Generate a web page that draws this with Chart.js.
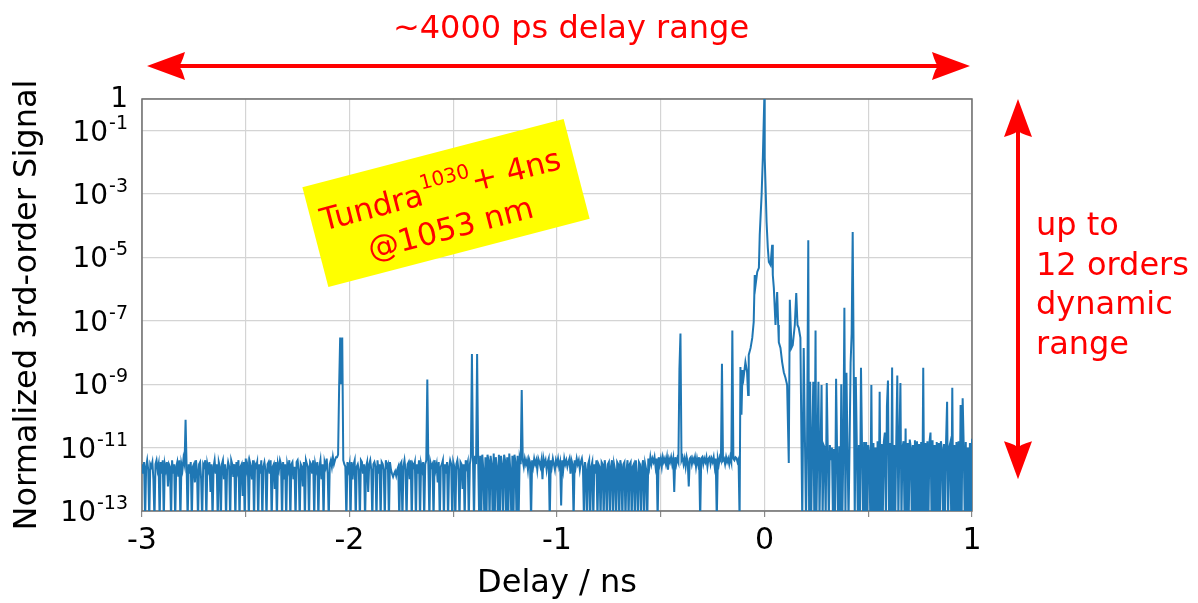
<!DOCTYPE html>
<html>
<head>
<meta charset="utf-8">
<script src="https://cdn.jsdelivr.net/npm/chart.js@4"></script>
<style>
  html, body { margin: 0; padding: 0; background: #fff; }
  #wrap { width: 1198px; height: 603px; position: relative; }
</style>
</head>
<body>
<div id="wrap"><canvas id="chart"></canvas></div>
<script>
// Delay axis samples (ns)
const delayNs = [
  -3.000,-2.995,-2.990,-2.985,-2.980,-2.975,-2.970,-2.965,-2.960,-2.955,-2.950,-2.945,-2.940,-2.935,-2.930,-2.925,-2.920,-2.915,-2.910,-2.905,
  -2.900,-2.895,-2.890,-2.885,-2.880,-2.875,-2.870,-2.865,-2.860,-2.855,-2.850,-2.845,-2.840,-2.835,-2.830,-2.825,-2.820,-2.815,-2.810,-2.805,
  -2.800,-2.795,-2.790,-2.785,-2.780,-2.775,-2.770,-2.765,-2.760,-2.755,-2.750,-2.745,-2.740,-2.735,-2.730,-2.725,-2.720,-2.715,-2.710,-2.705,
  -2.700,-2.695,-2.690,-2.685,-2.680,-2.675,-2.670,-2.665,-2.660,-2.655,-2.650,-2.645,-2.640,-2.635,-2.630,-2.625,-2.620,-2.615,-2.610,-2.605,
  -2.600,-2.595,-2.590,-2.585,-2.580,-2.575,-2.570,-2.565,-2.560,-2.555,-2.550,-2.545,-2.540,-2.535,-2.530,-2.525,-2.520,-2.515,-2.510,-2.505,
  -2.500,-2.495,-2.490,-2.485,-2.480,-2.475,-2.470,-2.465,-2.460,-2.455,-2.450,-2.445,-2.440,-2.435,-2.430,-2.425,-2.420,-2.415,-2.410,-2.405,
  -2.400,-2.395,-2.390,-2.385,-2.380,-2.375,-2.370,-2.365,-2.360,-2.355,-2.350,-2.345,-2.340,-2.335,-2.330,-2.325,-2.320,-2.315,-2.310,-2.305,
  -2.300,-2.295,-2.290,-2.285,-2.280,-2.275,-2.270,-2.265,-2.260,-2.255,-2.250,-2.245,-2.240,-2.235,-2.230,-2.225,-2.220,-2.215,-2.210,-2.205,
  -2.200,-2.195,-2.190,-2.185,-2.180,-2.175,-2.170,-2.165,-2.160,-2.155,-2.150,-2.145,-2.140,-2.135,-2.130,-2.125,-2.120,-2.115,-2.110,-2.105,
  -2.100,-2.095,-2.090,-2.085,-2.080,-2.075,-2.070,-2.065,-2.060,-2.055,-2.050,-2.045,-2.040,-2.035,-2.030,-2.025,-2.020,-2.015,-2.010,-2.005,
  -2.000,-1.995,-1.990,-1.985,-1.980,-1.975,-1.970,-1.965,-1.960,-1.955,-1.950,-1.945,-1.940,-1.935,-1.930,-1.925,-1.920,-1.915,-1.910,-1.905,
  -1.900,-1.895,-1.890,-1.885,-1.880,-1.875,-1.870,-1.865,-1.860,-1.855,-1.850,-1.845,-1.840,-1.835,-1.830,-1.825,-1.820,-1.815,-1.810,-1.805,
  -1.800,-1.795,-1.790,-1.785,-1.780,-1.775,-1.770,-1.765,-1.760,-1.755,-1.750,-1.745,-1.740,-1.735,-1.730,-1.725,-1.720,-1.715,-1.710,-1.705,
  -1.700,-1.695,-1.690,-1.685,-1.680,-1.675,-1.670,-1.665,-1.660,-1.655,-1.650,-1.645,-1.640,-1.635,-1.630,-1.625,-1.620,-1.615,-1.610,-1.605,
  -1.600,-1.595,-1.590,-1.585,-1.580,-1.575,-1.570,-1.565,-1.560,-1.555,-1.550,-1.545,-1.540,-1.535,-1.530,-1.525,-1.520,-1.515,-1.510,-1.505,
  -1.500,-1.495,-1.490,-1.485,-1.480,-1.475,-1.470,-1.465,-1.460,-1.455,-1.450,-1.445,-1.440,-1.435,-1.430,-1.425,-1.420,-1.415,-1.410,-1.405,
  -1.400,-1.395,-1.390,-1.385,-1.380,-1.375,-1.370,-1.365,-1.360,-1.355,-1.350,-1.345,-1.340,-1.335,-1.330,-1.325,-1.320,-1.315,-1.310,-1.305,
  -1.300,-1.295,-1.290,-1.285,-1.280,-1.275,-1.270,-1.265,-1.260,-1.255,-1.250,-1.245,-1.240,-1.235,-1.230,-1.225,-1.220,-1.215,-1.210,-1.205,
  -1.200,-1.195,-1.190,-1.185,-1.180,-1.175,-1.170,-1.165,-1.160,-1.155,-1.150,-1.145,-1.140,-1.135,-1.130,-1.125,-1.120,-1.115,-1.110,-1.105,
  -1.100,-1.095,-1.090,-1.085,-1.080,-1.075,-1.070,-1.065,-1.060,-1.055,-1.050,-1.045,-1.040,-1.035,-1.030,-1.025,-1.020,-1.015,-1.010,-1.005,
  -1.000,-0.995,-0.990,-0.985,-0.980,-0.975,-0.970,-0.965,-0.960,-0.955,-0.950,-0.945,-0.940,-0.935,-0.930,-0.925,-0.920,-0.915,-0.910,-0.905,
  -0.900,-0.895,-0.890,-0.885,-0.880,-0.875,-0.870,-0.865,-0.860,-0.855,-0.850,-0.845,-0.840,-0.835,-0.830,-0.825,-0.820,-0.815,-0.810,-0.805,
  -0.800,-0.795,-0.790,-0.785,-0.780,-0.775,-0.770,-0.765,-0.760,-0.755,-0.750,-0.745,-0.740,-0.735,-0.730,-0.725,-0.720,-0.715,-0.710,-0.705,
  -0.700,-0.695,-0.690,-0.685,-0.680,-0.675,-0.670,-0.665,-0.660,-0.655,-0.650,-0.645,-0.640,-0.635,-0.630,-0.625,-0.620,-0.615,-0.610,-0.605,
  -0.600,-0.595,-0.590,-0.585,-0.580,-0.575,-0.570,-0.565,-0.560,-0.555,-0.550,-0.545,-0.540,-0.535,-0.530,-0.525,-0.520,-0.515,-0.510,-0.505,
  -0.500,-0.495,-0.490,-0.485,-0.480,-0.475,-0.470,-0.465,-0.460,-0.455,-0.450,-0.445,-0.440,-0.435,-0.430,-0.425,-0.420,-0.415,-0.410,-0.405,
  -0.400,-0.395,-0.390,-0.385,-0.380,-0.375,-0.370,-0.365,-0.360,-0.355,-0.350,-0.345,-0.340,-0.335,-0.330,-0.325,-0.320,-0.315,-0.310,-0.305,
  -0.300,-0.295,-0.290,-0.285,-0.280,-0.275,-0.270,-0.265,-0.260,-0.255,-0.250,-0.245,-0.240,-0.235,-0.230,-0.225,-0.220,-0.215,-0.210,-0.205,
  -0.200,-0.195,-0.190,-0.185,-0.180,-0.175,-0.170,-0.165,-0.160,-0.155,-0.150,-0.145,-0.140,-0.135,-0.130,-0.125,
  -0.120,-0.116,-0.111,
  -0.106,-0.101,-0.092,-0.084,-0.079,-0.076,-0.067,-0.059,-0.052,-0.047,
  -0.043,-0.035,-0.027,-0.023,-0.014,-0.008,-0.001,0.001,0.005,0.010,
  0.016,0.021,0.029,0.037,0.040,0.045,0.053,0.061,0.066,0.069,
  0.077,0.085,0.093,0.101,0.109,0.117,0.122,0.130,0.136,0.146,
  0.153,0.159,0.165,0.173,0.182,0.189,0.195,0.200,0.205,0.211,
  0.215,0.220,0.225,0.230,0.235,0.240,0.246,0.250,0.255,0.260,
  0.265,0.270,0.275,0.280,0.285,0.290,0.295,0.300,0.305,0.310,
  0.315,0.320,0.325,0.330,0.335,0.340,0.345,0.350,0.355,0.360,
  0.365,0.370,0.375,0.380,0.385,0.390,0.395,0.400,0.405,0.410,
  0.415,0.420,0.425,0.430,0.435,0.440,0.445,0.450,0.455,0.460,
  0.465,0.470,0.475,0.480,
  0.485,0.490,0.495,0.500,0.505,0.510,0.515,0.520,0.525,0.530,
  0.535,0.540,0.545,0.550,0.555,0.560,0.565,0.570,0.575,0.580,
  0.585,0.590,0.595,0.600,0.605,0.610,0.615,0.620,0.625,0.630,
  0.635,0.640,0.645,0.650,0.655,0.660,0.665,0.670,0.675,0.680,
  0.685,0.690,0.695,0.700,0.705,0.710,0.715,0.720,0.725,0.730,
  0.735,0.740,0.745,0.750,0.755,0.760,0.765,0.770,0.775,0.780,
  0.785,0.790,0.795,0.800,0.805,0.810,0.815,0.820,0.825,0.830,
  0.835,0.840,0.845,0.850,0.855,0.860,0.865,0.870,0.875,0.880,
  0.885,0.890,0.895,0.900,0.905,0.910,0.915,0.920,0.925,0.930,
  0.935,0.940,0.945,0.950,0.955,0.960,0.965,0.970,0.975,0.980,
  0.985,0.990,0.995,1.000
];

// Normalized 3rd-order signal at each delay (values below 1e-13 fall off the bottom)
const signal = [
  3e-12,1.5e-12,3.5e-12,5e-14,2.5e-12,4e-12,2e-12,5e-14,3e-12,2.5e-12,3.5e-12,1e-12,5e-14,3e-12,4e-12,2e-12,3e-12,5e-14,3.5e-12,1.5e-12,
  4e-12,5e-14,3e-12,2e-12,3.5e-12,6e-13,3e-12,2.5e-12,5e-14,4e-12,1.5e-12,3e-12,5e-14,2.5e-12,3.5e-12,1.2e-12,4e-12,5e-14,3e-12,2e-12,
  4.5e-12,3e-12,7.5e-11,2.5e-12,5e-14,3e-12,1.5e-12,3.5e-12,5e-14,2.5e-12,3e-12,8e-13,4e-12,2e-12,5e-14,3e-12,3.5e-12,1e-12,5e-14,3e-12,
  2.5e-12,4e-12,5e-14,3e-12,2e-12,3.5e-12,4e-13,3e-12,5e-14,2.5e-12,4e-12,1.5e-12,3e-12,5e-14,3.5e-12,2.5e-12,5e-14,3e-12,4e-12,1e-12,
  3e-12,5e-14,2e-12,3.5e-12,2.5e-12,5e-14,4e-12,3e-12,1.2e-12,3e-12,5e-14,3.5e-12,2e-12,4e-12,5e-14,2.5e-12,3e-12,3e-13,3.5e-12,5e-14,
  4.5e-12,2e-12,3e-12,5e-14,3.5e-12,2.5e-12,1e-12,4e-12,5e-14,3e-12,2.5e-12,3.5e-12,5e-14,3e-12,1.5e-12,4e-12,5e-14,2.5e-12,3.5e-12,2e-12,
  5e-14,3e-12,3.5e-12,1.5e-12,4e-12,5e-14,2.5e-12,3e-12,5e-13,3.5e-12,5e-14,3e-12,2e-12,4e-12,3e-12,5e-14,3.5e-12,1e-12,3e-12,5e-14,
  3e-12,2e-12,4e-12,5e-14,3e-12,3.5e-12,1e-12,2.5e-12,5e-14,3.5e-12,4e-12,2e-12,5e-14,3e-12,2.5e-12,6e-13,3.5e-12,5e-14,4e-12,3e-12,
  2.5e-12,5e-14,3.5e-12,3e-12,1.5e-12,4e-12,5e-14,3e-12,2e-12,3.5e-12,5e-14,2.5e-12,4e-12,1e-12,3e-12,5e-14,3.5e-12,2.5e-12,4.5e-12,1.5e-12,
  5e-14,3e-12,4e-12,2.5e-12,5e-12,3e-12,4e-12,5e-12,5e-12,6e-12,8e-10,3e-8,1e-9,3e-8,4e-12,3e-12,2.5e-12,5e-14,3.5e-12,2e-12,
  3e-12,5e-14,3.5e-12,1e-12,3e-12,4e-12,5e-14,2.5e-12,3e-12,2e-12,5e-14,4e-12,3.5e-12,1.5e-12,3e-12,5e-14,2.5e-12,3.5e-12,4e-13,3e-12,
  4e-12,2e-12,5e-14,3e-12,3.5e-12,2.5e-12,5e-14,4e-12,1.5e-12,3e-12,5e-14,3.5e-12,3e-12,2e-12,5e-14,4e-12,2.5e-12,3e-12,5e-14,3.5e-12,
  2e-12,1.5e-12,1.2e-12,1.5e-12,1.8e-12,1.3e-12,2e-12,2.5e-12,5e-14,3e-12,3.5e-12,5e-14,2.5e-12,4e-12,2e-12,5e-14,3e-12,3.5e-12,1e-12,4e-12,
  5e-14,3e-12,2.5e-12,3.5e-12,5e-14,3e-12,1.5e-12,4e-12,5e-14,3e-12,2e-12,3.5e-12,5e-14,3e-12,4e-12,1.4e-9,3e-12,5e-14,3.5e-12,2.5e-12,
  3e-12,5e-14,4e-12,2e-12,3e-12,8e-13,3.5e-12,5e-14,2.5e-12,3e-12,4e-12,5e-14,3e-12,1.5e-12,3.5e-12,5e-14,2.5e-12,4e-12,3e-12,5e-14,
  3.5e-12,2.5e-12,5e-14,3e-12,4e-12,2e-12,5e-14,3.5e-12,3e-12,5e-13,3e-12,5e-14,4e-12,2.5e-12,3.5e-12,5e-14,3e-12,5e-12,9e-9,5e-12,
  5e-14,5.5e-12,3e-12,9e-9,5e-12,5e-14,5.5e-12,5e-14,6e-12,2e-12,5e-14,5e-12,5e-14,6e-12,4e-12,5e-14,5.5e-12,3e-12,5e-14,6.5e-12,
  5e-14,5e-12,2.5e-12,5e-14,6e-12,5e-14,5.5e-12,3e-12,5e-14,6e-12,4e-12,5e-14,5e-12,5e-14,6.5e-12,2e-12,5e-14,5.5e-12,5e-14,6e-12,
  3.5e-12,5e-14,5.5e-12,5e-14,4.5e-12,3e-12,6.6e-10,4e-12,2.5e-12,4.5e-12,3e-12,4e-12,2e-12,4.5e-12,3.5e-12,5e-14,4e-12,2.5e-12,4.5e-12,3e-12,
  4e-12,2e-12,4.5e-12,3.5e-12,2.5e-12,4e-12,1e-12,4.5e-12,3e-12,4e-12,2e-12,3.5e-12,4.5e-12,5e-14,4e-12,2.5e-12,4.5e-12,3e-12,2e-12,4e-12,
  3e-12,4.5e-12,2.5e-12,3.5e-12,1.5e-13,4e-12,2e-12,4.5e-12,3e-12,4e-12,2.5e-12,3.5e-12,4.5e-12,1.5e-12,4e-12,3e-12,5e-14,4e-12,2.5e-12,4.5e-12,
  3e-12,4e-12,2e-12,3.5e-12,4.5e-12,2.5e-12,5e-14,3.5e-12,2e-12,5e-14,3e-12,4e-12,5e-14,2.5e-12,3.5e-12,5e-14,3e-12,1.5e-12,4e-12,5e-14,
  3e-12,2.5e-12,5e-14,3.5e-12,3e-12,5e-14,4e-12,2e-12,5e-14,3e-12,3.5e-12,5e-14,2.5e-12,4e-12,5e-14,3e-12,2e-12,5e-14,3.5e-12,3e-12,
  5e-14,4e-12,2.5e-12,5e-14,3e-12,3.5e-12,5e-14,2e-12,4e-12,5e-14,3e-12,3.5e-12,5e-14,2.5e-12,3e-12,5e-14,4e-12,1.5e-12,5e-14,3.5e-12,
  3e-12,5e-14,2.5e-12,4e-12,5e-14,3e-12,2e-12,5e-14,4.5e-12,2.5e-12,5e-12,3e-12,4.5e-12,3.5e-12,5e-12,2.5e-12,4.5e-12,5e-14,5e-12,3e-12,
  4.5e-12,2.5e-12,5e-12,3.5e-12,4.5e-12,3e-12,5e-12,2e-12,4.5e-12,3.5e-12,5e-12,3e-12,4.5e-12,4e-13,5e-12,3e-12,4.5e-12,3.5e-12,3e-9,4e-8,
  4e-12,5e-12,3e-12,4.5e-12,2.5e-12,5e-12,3.5e-12,6e-13,4.5e-12,5e-12,3e-12,4.5e-12,3.5e-12,5e-12,2.5e-12,4.5e-12,3e-12,5e-12,5e-14,4.5e-12,
  5e-12,3e-12,4.5e-12,3.5e-12,5e-12,2.5e-12,4.5e-12,5e-12,3e-12,4.5e-12,3.5e-12,5e-12,2.5e-12,4.5e-12,5e-14,4.5e-12,3e-12,5e-12,4e-12,4.4e-9,
  4e-12,4.5e-12,3e-12,5e-12,3.5e-12,4.5e-12,3e-12,5e-12,3.5e-12,5e-8,4.5e-12,4e-12,5e-12,4.7e-12,3.5e-12,4.3e-12,
  5e-14,3.5e-9,1.1e-10,
  2.8e-9,1.6e-9,5e-9,2.4e-9,4.6e-10,8.4e-9,1.4e-8,2.9e-8,9.3e-8,2.8e-6,
  1.35e-6,3.5e-6,4.7e-6,5.1e-5,9.3e-4,1.4e-2,1,1.4e-2,1.9e-3,1.3e-4,
  2e-5,7.2e-6,5.8e-6,2.5e-5,2.8e-6,1.1e-6,7.4e-8,8.1e-7,7.4e-8,2.1e-8,
  1.4e-8,5e-9,2.4e-9,1.6e-9,9.5e-10,3.3e-12,4.6e-7,1.4e-8,1.7e-8,7.4e-8,
  7.6e-7,7.4e-8,6e-8,2.9e-8,5e-14,1.4e-8,1.5e-11,5e-14,8e-12,3.5e-5,
  5e-14,1.2e-9,5e-14,1.2e-11,1.2e-9,5e-14,5e-8,5e-14,1e-11,1.2e-9,
  5e-14,8e-12,9.5e-10,5e-14,1.2e-11,1e-11,5e-14,1.1e-9,7e-12,5e-14,
  1.2e-11,4e-12,1e-11,5e-14,9e-12,5e-14,1.5e-9,6e-12,5e-14,1.1e-11,
  5e-14,1e-9,5e-14,9e-12,2.6e-7,5e-14,2.3e-9,8e-12,5e-14,1.2e-11,
  4.7e-9,4e-8,6.3e-5,3.6e-9,5e-14,1.7e-9,1e-11,5e-14,1.2e-11,5e-14,
  3.3e-9,1e-11,5e-14,1.5e-11,
  5e-14,1.5e-11,5e-14,1.2e-11,6e-12,5e-14,9.5e-10,5e-14,1.4e-11,5e-14,
  1e-11,5e-14,1.6e-11,5e-14,5.8e-10,5e-14,1.3e-11,5e-14,1.5e-11,3e-11,
  5e-14,2e-10,1.3e-9,5e-14,1.4e-11,5e-14,3.4e-9,5e-14,1.2e-11,5e-14,
  1.5e-11,1.9e-9,5e-14,1.3e-11,1.1e-9,5e-14,1e-11,1.6e-11,5e-14,4e-11,
  5e-14,1.4e-11,5e-14,1.8e-11,1e-11,5e-14,1.2e-11,5e-14,1.7e-11,5e-14,
  1.6e-11,5e-14,1.3e-11,5e-14,1.5e-11,5e-14,3.3e-9,5e-14,1.4e-11,5e-14,
  1.6e-11,5e-14,1.5e-11,3e-11,5e-14,1.7e-11,5e-14,1.2e-11,5e-14,1.5e-11,
  5e-14,1.4e-11,5e-14,1.6e-11,9e-12,5e-14,1.3e-11,5e-14,1.5e-11,2.8e-10,
  5e-14,1e-11,1.4e-11,5e-14,7.7e-10,5e-14,1.2e-11,5e-14,1.5e-11,5e-14,
  1.6e-11,5e-14,2.2e-10,5e-14,3.6e-10,1.2e-11,5e-14,1.5e-11,5e-14,1e-11,
  5e-14,1.4e-11,5e-14,1.9e-11
];

// Axis ticks
const yTickValues = [1e-13, 1e-11, 1e-9, 1e-7, 1e-5, 1e-3, 1e-1, 1];
const yTickExponents = ['-13', '-11', '-9', '-7', '-5', '-3', '-1', ''];
const xTickLabels = ['-3', '-2', '-1', '0', '1'];

if (delayNs.length !== signal.length) {
    console.error('length mismatch', delayNs.length, signal.length);
}

const FONT = '"DejaVu Sans", Verdana, sans-serif';
Chart.defaults.font.family = FONT;
Chart.defaults.color = '#000';

function drawArrowHead(ctx, tipX, tipY, dx, dy) {
    // stealth style arrow head, (dx, dy) points toward the tip
    const len = 38, half = 14, notch = 7;
    const nx = -dy, ny = dx;
    const bx = tipX - dx * len, by = tipY - dy * len;
    ctx.beginPath();
    ctx.moveTo(tipX, tipY);
    ctx.lineTo(bx + nx * half, by + ny * half);
    ctx.quadraticCurveTo(bx + dx * 4, by + dy * 4, tipX - dx * (len - notch), tipY - dy * (len - notch));
    ctx.quadraticCurveTo(bx + dx * 4, by + dy * 4, bx - nx * half, by - ny * half);
    ctx.closePath();
    ctx.fill();
}

function drawDoubleArrow(ctx, x1, y1, x2, y2) {
    const l = Math.hypot(x2 - x1, y2 - y1);
    const dx = (x2 - x1) / l, dy = (y2 - y1) / l;
    ctx.lineWidth = 4;
    ctx.beginPath();
    ctx.moveTo(x1 + dx * 20, y1 + dy * 20);
    ctx.lineTo(x2 - dx * 20, y2 - dy * 20);
    ctx.stroke();
    drawArrowHead(ctx, x1, y1, -dx, -dy);
    drawArrowHead(ctx, x2, y2, dx, dy);
}

const frameBox = {
    id: 'frameBox',
    beforeDatasetsDraw(chart) {
        const {ctx, chartArea: a} = chart;
        ctx.save();
        ctx.strokeStyle = '#6e6e6e';
        ctx.lineWidth = 1.5;
        ctx.strokeRect(a.left, a.top, a.right - a.left, a.bottom - a.top);
        ctx.restore();
    }
};

// y tick labels as 10 with a raised exponent
const powerLabels = {
    id: 'powerLabels',
    afterDraw(chart) {
        const {ctx, chartArea: a, scales} = chart;
        const right = a.left - 14;
        ctx.save();
        ctx.fillStyle = '#000';
        ctx.textBaseline = 'alphabetic';
        ctx.textAlign = 'right';
        yTickValues.forEach((v, i) => {
            const y = scales.y.getPixelForValue(v);
            const exp = yTickExponents[i];
            if (!exp) {
                ctx.font = '28px ' + FONT;
                ctx.fillText('1', right, y + 8);
                return;
            }
            ctx.font = '19px ' + FONT;
            const ew = ctx.measureText(exp).width;
            ctx.fillText(exp, right, y - 2);
            ctx.font = '28px ' + FONT;
            ctx.fillText('10', right - ew - 1, y + 10);
        });
        ctx.restore();
    }
};

const annotations = {
    id: 'annotations',
    afterDraw(chart) {
        const {ctx, chartArea: a, scales} = chart;
        ctx.save();
        ctx.fillStyle = '#ff0000';
        ctx.strokeStyle = '#ff0000';

        // delay range arrow and label
        drawDoubleArrow(ctx, a.left + 5, 66, a.right - 2, 66);
        ctx.font = '32px ' + FONT;
        ctx.textAlign = 'center';
        ctx.textBaseline = 'alphabetic';
        ctx.fillText('~4000 ps delay range', 571, 38);

        // dynamic range arrow: from 1 down to 1e-12
        const yTop = scales.y.getPixelForValue(1);
        const yBot = scales.y.getPixelForValue(1e-12);
        drawDoubleArrow(ctx, 1018, yTop, 1018, yBot);
        ctx.font = '32px ' + FONT;
        ctx.textAlign = 'left';
        ['up to', '12 orders', 'dynamic', 'range'].forEach((t, i) => {
            ctx.fillText(t, 1036, 235 + i * 39.5);
        });

        // yellow label
        ctx.translate(446, 203);
        ctx.rotate(-0.255);
        ctx.fillStyle = '#ffff00';
        ctx.fillRect(-135, -51.5, 270, 103);
        ctx.fillStyle = '#ff0000';
        ctx.textAlign = 'left';
        const big = '31px ' + FONT, small = '20px ' + FONT;
        ctx.font = big;
        const w1 = ctx.measureText('Tundra').width;
        const w3 = ctx.measureText('+ 4ns').width;
        ctx.font = small;
        const w2 = ctx.measureText('1030').width;
        const x = -(w1 + w2 + w3) / 2 - 2;
        ctx.font = big;
        ctx.fillText('Tundra', x, -4);
        ctx.font = small;
        ctx.fillText('1030', x + w1, -19);
        ctx.font = big;
        ctx.fillText('+ 4ns', x + w1 + w2, -4);
        ctx.textAlign = 'center';
        ctx.fillText('@1053 nm', -2, 36);
        ctx.restore();
    }
};

new Chart(document.getElementById('chart'), {
    type: 'line',
    data: {
        datasets: [{
            label: 'signal',
            data: delayNs.map((d, i) => ({x: d, y: signal[i]})),
            borderColor: '#1f77b4',
            borderWidth: 2,
            pointRadius: 0,
            tension: 0,
            fill: false
        }]
    },
    options: {
        responsive: true,
        maintainAspectRatio: false,
        animation: false,
        events: [],
        layout: { padding: { top: 99, right: 226, left: 0, bottom: 0 } },
        plugins: {
            legend: { display: false },
            tooltip: { enabled: false }
        },
        scales: {
            x: {
                type: 'linear',
                min: -3,
                max: 1,
                afterFit: s => { s.height = 92; },
                ticks: {
                    stepSize: 0.5,
                    autoSkip: false,
                    maxRotation: 0,
                    padding: 6,
                    font: { size: 30 },
                    callback: v => Number.isInteger(v) ? xTickLabels[v + 3] : ''
                },
                grid: { color: '#d4d4d4', lineWidth: 1.2, tickLength: 6, tickColor: '#8a8a8a' },
                border: { display: false },
                title: {
                    display: true,
                    text: 'Delay / ns',
                    font: { size: 32 },
                    padding: { top: 0, bottom: 0 }
                }
            },
            y: {
                type: 'logarithmic',
                min: 1e-13,
                max: 1,
                afterFit: s => { s.width = 142; },
                afterBuildTicks: s => { s.ticks = yTickValues.map(v => ({value: v, major: true})); },
                ticks: { display: false },
                grid: { color: '#d4d4d4', lineWidth: 1.2, drawTicks: false },
                border: { display: false },
                title: {
                    display: true,
                    text: 'Normalized 3rd-order Signal',
                    font: { size: 32 },
                    padding: { top: 8, bottom: 0 }
                }
            }
        }
    },
    plugins: [frameBox, powerLabels, annotations]
});
</script>
</body>
</html>
